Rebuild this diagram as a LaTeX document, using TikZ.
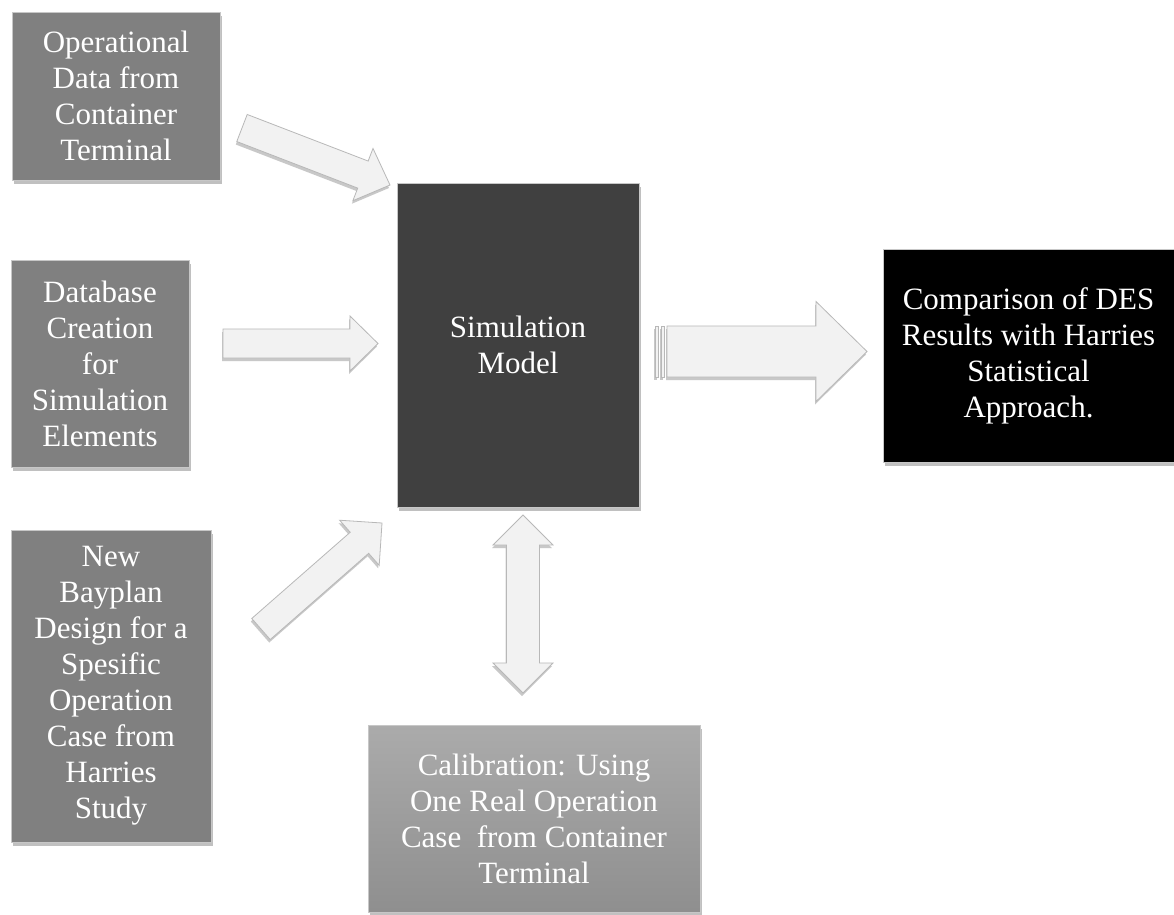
\documentclass[tikz,border=0pt]{standalone}
\usepackage{fontspec}
\setmainfont{Liberation Serif}
\usetikzlibrary{calc,shadows}

\tikzset{
  baseBox/.style={rectangle, draw=black!22, line width=0.8pt, text=white, align=center,
    inner sep=0pt, font=\fontsize{31}{36}\selectfont,
    drop shadow={shadow xshift=2pt, shadow yshift=-4pt, opacity=0.35, fill=black!70}},
  inputBox/.style={baseBox, fill=black!50},
  modelBox/.style={baseBox, fill=black!75},
  resultBox/.style={baseBox, fill=black},
  calibBox/.style={baseBox, top color=black!33, bottom color=black!44},
  blockArrow/.style={fill=black!5, draw=black!28, line width=0.8pt, line join=miter,
    drop shadow={shadow xshift=-1pt, shadow yshift=-3pt, opacity=0.3, fill=black!70}}
}

% tail, tip, half body, half head, head length
\newcommand{\blockArrow}[5]{%
  \coordinate (headBase) at ($(#2)!#5!(#1)$);
  \draw[blockArrow] ($(#1)!#3!90:(#2)$) -- ($(headBase)!#3!-90:(#1)$)
    -- ($(headBase)!#4!-90:(#1)$) -- (#2) -- ($(headBase)!#4!90:(#1)$)
    -- ($(headBase)!#3!90:(#1)$) -- ($(#1)!#3!-90:(#2)$) -- cycle;
}
% end a, end b, half body, half head, head length
\newcommand{\doubleArrow}[5]{%
  \coordinate (baseA) at ($(#1)!#5!(#2)$);
  \coordinate (baseB) at ($(#2)!#5!(#1)$);
  \draw[blockArrow] (#1) -- ($(baseA)!#4!90:(#2)$) -- ($(baseA)!#3!90:(#2)$)
    -- ($(baseB)!#3!-90:(#1)$) -- ($(baseB)!#4!-90:(#1)$) -- (#2)
    -- ($(baseB)!#4!90:(#1)$) -- ($(baseB)!#3!90:(#1)$)
    -- ($(baseA)!#3!-90:(#2)$) -- ($(baseA)!#4!-90:(#2)$) -- cycle;
}

\begin{document}
\begin{tikzpicture}[x=1pt, y=-1pt]
  \fill[white] (0,0) rectangle (1174,914);
  \useasboundingbox (0,0) rectangle (1174,914);

  % boxes
  \node[inputBox, minimum width=208pt, minimum height=168pt] (opData) at (116,96)
    {Operational\\Data from\\Container\\Terminal};
  \node[inputBox, minimum width=178pt, minimum height=207pt] (dbCreation) at (100,363.5)
    {Database\\Creation\\for\\Simulation\\Elements};
  \node[inputBox, minimum width=200pt, minimum height=312pt] (bayplan) at (111,686)
    {New\\Bayplan\\Design for a\\Spesific\\Operation\\Case from\\Harries\\Study};
  \node[modelBox, minimum width=242pt, minimum height=324pt] (simModel) at (518,345)
    {Simulation\\Model};
  \node[resultBox, minimum width=291pt, minimum height=213pt] (comparison) at (1028.5,355.5)
    {Comparison of DES\\Results with Harries\\Statistical\\Approach.};
  \node[calibBox, minimum width=332pt, minimum height=187pt] (calibration) at (534,818.5)
    {Calibration: Using\\One Real Operation\\Case\ \ from Container\\Terminal};

  % arrow ends
  \coordinate (opTail) at (242,128);
  \coordinate (opTip) at (390,185);
  \coordinate (dbTail) at (223,343.5);
  \coordinate (dbTip) at (378,343.5);
  \coordinate (bpTail) at (261,629);
  \coordinate (bpTip) at (382,523);
  \coordinate (resTail) at (667,351.5);
  \coordinate (resTip) at (867,351.5);
  \coordinate (calTop) at (523,515);
  \coordinate (calBot) at (523,693);

  % arrows
  \blockArrow{opTail}{opTip}{14.5pt}{28pt}{29pt}
  \blockArrow{dbTail}{dbTip}{14.5pt}{27.5pt}{28pt}
  \blockArrow{bpTail}{bpTip}{14pt}{30pt}{30pt}
  \blockArrow{resTail}{resTip}{25.5pt}{50pt}{51pt}
  \draw[blockArrow] (655,326) rectangle (658,377);
  \draw[blockArrow] (661,326) rectangle (664,377);
  \doubleArrow{calTop}{calBot}{16.5pt}{30pt}{30pt}
\end{tikzpicture}
\end{document}
